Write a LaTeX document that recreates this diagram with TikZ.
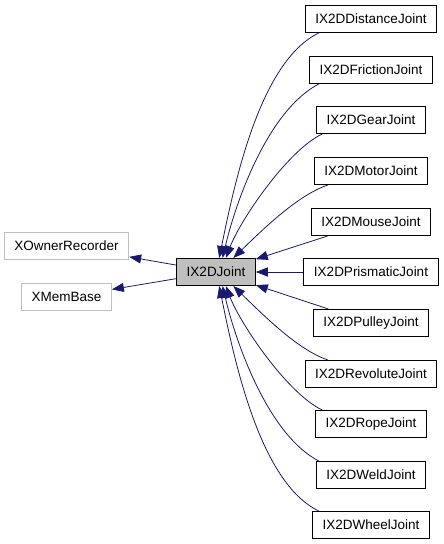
\documentclass[tikz,border=0pt]{standalone}
\usepackage{fontspec}
\setmainfont{Liberation Sans}
\usetikzlibrary{arrows.meta}
\definecolor{edgeblue}{HTML}{191970}
\definecolor{boxgray}{HTML}{BFBFBF}

\begin{document}
\begin{tikzpicture}[x=1pt, y=-1pt,
    cls/.style={draw=black, line width=1pt, fill=white, inner xsep=10pt, minimum height=27pt, font=\fontsize{13.5}{16}\selectfont},
    ext/.style={cls, draw=boxgray},
    cur/.style={cls, fill=boxgray},
    inherit/.style={{Triangle[length=12pt,width=9pt]}-, draw=edgeblue, line width=0.8pt}]
                \useasboundingbox (0,0) rectangle (444,544);

                \node[cur] (joint)  at (216,272)  {IX2DJoint};
                \node[ext] (owner)  at (66.5,246) {XOwnerRecorder};
                \node[ext] (mem)    at (66.5,297) {XMemBase};

                \node[cls] (dist)   at (371,19)  {IX2DDistanceJoint};
                \node[cls] (fric)   at (371,70)  {IX2DFrictionJoint};
                \node[cls] (gear)   at (371,120) {IX2DGearJoint};
                \node[cls] (motor)  at (371,171) {IX2DMotorJoint};
                \node[cls] (mouse)  at (371,222) {IX2DMouseJoint};
                \node[cls] (prism)  at (371,272) {IX2DPrismaticJoint};
                \node[cls] (pulley) at (371,323) {IX2DPulleyJoint};
                \node[cls] (revol)  at (371,374) {IX2DRevoluteJoint};
                \node[cls] (rope)   at (371,424) {IX2DRopeJoint};
                \node[cls] (weld)   at (371,475) {IX2DWeldJoint};
                \node[cls] (wheel)  at (371,525) {IX2DWheelJoint};

                \draw[inherit] (owner) -- (joint);
                \draw[inherit] (mem) -- (joint);

                \draw[inherit] (joint.77) .. controls +(16,-79) and +(-58,28) .. (dist.195);
                \draw[inherit] (joint.65) .. controls +(14,-59) and +(-50,26) .. (fric.195);
                \draw[inherit] (joint.55) .. controls +(15,-39) and +(-34,16) .. (gear.196);
                \draw[inherit] (joint.39) .. controls +(30,-29) and +(-30,10) .. (motor.198);
                \draw[inherit] (joint) -- (mouse);
                \draw[inherit] (joint) -- (prism);
                \draw[inherit] (joint) -- (pulley);
                \draw[inherit] (joint.-39) .. controls +(30,29) and +(-30,-10) .. (revol.162);
                \draw[inherit] (joint.-55) .. controls +(15,39) and +(-34,-16) .. (rope.164);
                \draw[inherit] (joint.-65) .. controls +(14,59) and +(-50,-26) .. (weld.165);
                \draw[inherit] (joint.-77) .. controls +(16,79) and +(-58,-28) .. (wheel.165);
            \end{tikzpicture}
\end{document}
